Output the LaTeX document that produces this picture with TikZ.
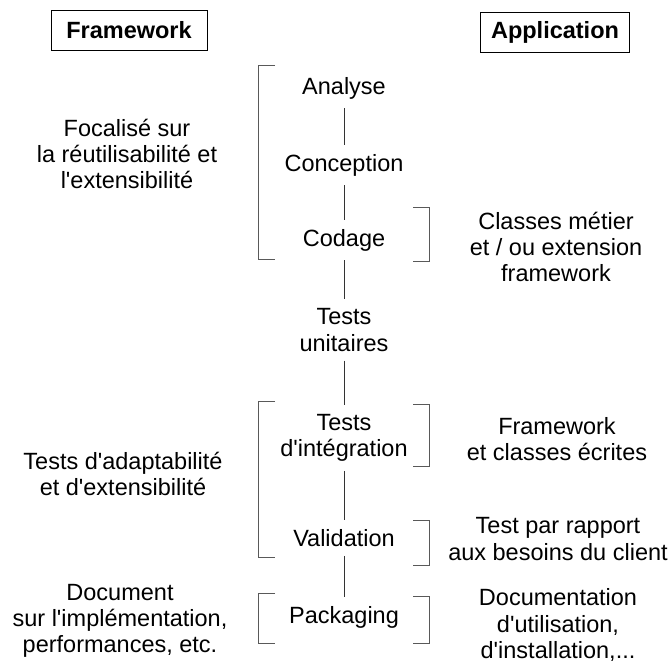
\documentclass[tikz,border=0pt]{standalone}
\usepackage{fontspec}
\setmainfont{Liberation Sans}[Ligatures=TeXOff]

\begin{document}
\begin{tikzpicture}[x=1pt,y=-1pt,
    every node/.style={font=\fontsize{23.5}{26.3}\selectfont, align=center},
    title/.style={draw, line width=0.8pt, font=\fontsize{23.5}{26.3}\selectfont\bfseries, minimum height=40},
    phase/.style={inner xsep=4pt, inner ysep=9pt},
    link/.style={line width=0.8pt, black!80},
    bracket/.style={line width=0.8pt, black!65}]
    \useasboundingbox (0,0) rectangle (672,664);
    \node[title, minimum width=156] (framework) at (129,30) {Framework};
    \node[title, minimum width=149] (application) at (555,32) {Application};
    \node[phase] (analyse) at (344,88) {Analyse};
    \node[phase] (conception) at (344,165) {Conception};
    \node[phase] (codage) at (344,240) {Codage};
    \node[phase] (unitaires) at (344,330) {Tests\\unitaires};
    \node[phase] (integration) at (344,438) {Tests\\d'intégration};
    \node[phase] (validation) at (344,538) {Validation};
    \node[phase] (packaging) at (344,617) {Packaging};
    \foreach \a/\b in {analyse/conception,conception/codage,codage/unitaires,
        unitaires/integration,integration/validation,validation/packaging}
        \draw[link] (\a) -- (\b);
    \foreach \t/\b in {65/259,401/557,593/643}
        \draw[bracket] (275,\t) -| (258,\b) -- (275,\b);
    \foreach \t/\b in {207/261,404/466,520/565,596/643}
        \draw[bracket] (413,\t) -| (429,\b) -- (413,\b);
    \node (focalise) at (127,154) {Focalisé sur\\la réutilisabilité et\\l'extensibilité};
    \node (adaptabilite) at (123,474) {Tests d'adaptabilité\\et d'extensibilité};
    \node (docframework) at (120,621) {Document\\sur l'implémentation,\\performances, etc.};
    \node (metier) at (556,247) {Classes métier\\et / ou extension\\framework};
    \node (ecrites) at (557,439) {Framework\\et classes écrites};
    \node (besoins) at (558,539) {Test par rapport\\aux besoins du client};
    \node (docapplication) at (558,625) {Documentation\\d'utilisation,\\d'installation,...};
\end{tikzpicture}
\end{document}
